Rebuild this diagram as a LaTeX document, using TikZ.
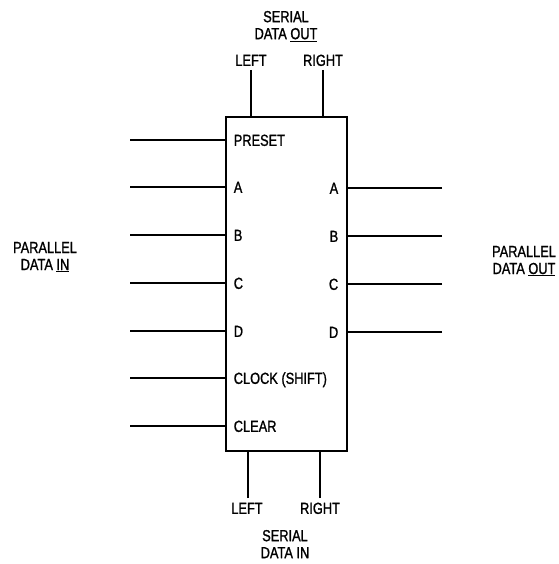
\documentclass[tikz,border=0pt]{standalone}
\usepackage{fontspec}
\setmainfont[FakeStretch=0.8, FakeBold=1.2]{Liberation Sans}
\usepackage{tikz}
\usetikzlibrary{positioning}

\tikzset{
  pinlbl/.style={inner sep=0pt, text height=11.7pt, text depth=0pt},
  grouplbl/.style={inner sep=0pt, align=center, anchor=north}
}

\begin{document}
\begin{tikzpicture}[x=1pt, y=-1pt, font=\fontsize{16}{17}\selectfont, line width=2pt]
  \useasboundingbox (0,0) rectangle (558,564);
  \node[draw, line width=2.4pt, minimum width=121pt, minimum height=334pt, inner sep=0pt] (reg) at (286.5,284) {};
  \foreach \i/\txt/\y in {1/PRESET/140, 2/A/187, 3/B/235, 4/C/283, 5/D/331, 6/CLOCK (SHIFT)/378, 7/CLEAR/426} {
    \coordinate (in\i) at (130,\y);
    \draw (in\i) -- (in\i -| reg.west);
    \node[pinlbl, anchor=west] (lin\i) at ([xshift=8pt]reg.west |- in\i) {\txt};
  }
  \foreach \i/\txt/\y in {1/A/188, 2/B/236, 3/C/284, 4/D/332} {
    \coordinate (out\i) at (442,\y);
    \draw (out\i) -- (out\i -| reg.east);
    \node[pinlbl, anchor=east] (lout\i) at ([xshift=-9pt]reg.east |- out\i) {\txt};
  }
  \coordinate (soL) at (251,70);
  \coordinate (soR) at (323,70);
  \draw (soL) -- (soL |- reg.north);
  \draw (soR) -- (soR |- reg.north);
  \node[pinlbl] (soLlbl) at (251,60) {LEFT};
  \node[pinlbl] (soRlbl) at (323,60) {RIGHT};
  \node[grouplbl] (serout) at (286,10) {SERIAL\\DATA \underline{OUT}};
  \coordinate (siL) at (248,498);
  \coordinate (siR) at (320,498);
  \draw (siL) -- (siL |- reg.south);
  \draw (siR) -- (siR |- reg.south);
  \node[pinlbl] (siLlbl) at (247,508) {LEFT};
  \node[pinlbl] (siRlbl) at (320,508) {RIGHT};
  \node[grouplbl] (serin) at (285,529) {SERIAL\\DATA IN};
  \node[grouplbl] (parin) at (45,241) {PARALLEL\\DATA \underline{IN}};
  \node[grouplbl] (parout) at (524,245) {PARALLEL\\DATA \underline{OUT}};
\end{tikzpicture}
\end{document}
